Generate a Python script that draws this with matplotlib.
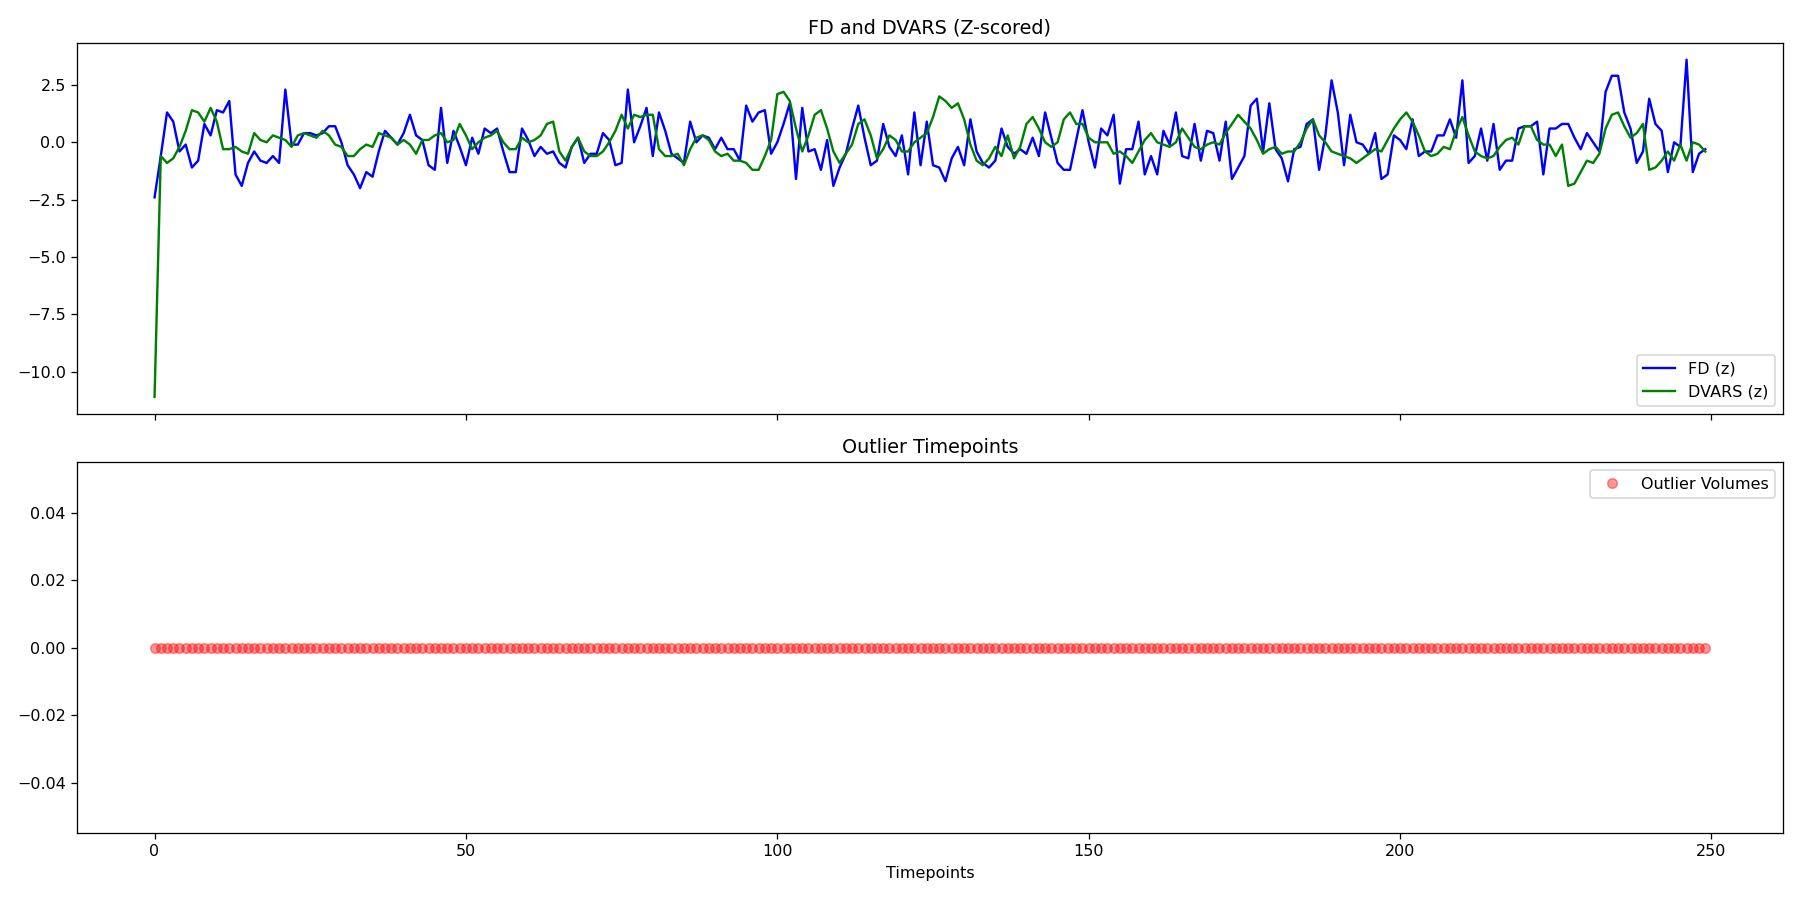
import numpy as np
import matplotlib
matplotlib.use("Agg")
import matplotlib.pyplot as plt
from matplotlib.ticker import MultipleLocator

fd_z = [
 -2.4, -0.6, 1.3, 0.9, -0.4, -0.1, -1.1, -0.8, 0.8, 0.3,
 1.4, 1.3, 1.8, -1.4, -1.9, -0.9, -0.4, -0.8, -0.9, -0.6,
 -0.9, 2.3, -0.1, -0.1, 0.4, 0.4, 0.3, 0.4, 0.7, 0.7,
 0.0, -1.0, -1.4, -2.0, -1.3, -1.5, -0.4, 0.5, 0.2, -0.1,
 0.4, 1.2, 0.3, 0.1, -1.0, -1.2, 1.5, -0.9, 0.5, -0.2,
 -1.0, 0.2, -0.5, 0.6, 0.4, 0.6, -0.4, -1.3, -1.3, 0.6,
 0.1, -0.6, -0.2, -0.5, -0.4, -0.9, -1.1, -0.2, 0.2, -0.9,
 -0.5, -0.5, 0.4, 0.1, -1.0, -0.9, 2.3, 0.0, 0.7, 1.5,
 -0.6, 1.3, 0.5, -0.5, -0.7, -0.9, 0.9, 0.0, 0.3, 0.2,
 -0.3, 0.2, -0.3, -0.3, -0.8, 1.6, 0.9, 1.3, 1.4, -0.5,
 0.0, 0.8, 1.7, -1.6, 1.5, -0.4, -0.3, -1.2, 0.1, -1.9,
 -1.1, -0.5, 0.6, 1.6, 0.2, -1.0, -0.8, 0.8, -0.2, -0.6,
 0.3, -1.4, 1.3, -1.0, 0.9, -1.0, -1.1, -1.7, -0.7, -0.2,
 -1.0, 1.0, -0.4, -0.9, -1.1, -0.8, 0.6, -0.2, -0.5, -0.3,
 -0.5, 0.2, -0.6, 1.3, 0.2, -0.9, -1.2, -1.2, 0.1, 1.4,
 0.0, -1.1, 0.6, 0.3, 1.2, -1.8, -0.3, -0.3, 0.9, -1.4,
 -0.6, -1.4, 0.5, -0.1, 1.3, -0.6, -0.7, 0.8, -0.8, 0.5,
 0.4, -0.8, 0.9, -1.6, -1.1, -0.6, 1.6, 1.9, -0.4, 1.7,
 -0.3, -0.7, -1.7, -0.3, -0.2, 0.8, 1.0, -1.2, 0.3, 2.7,
 1.3, -1.0, 1.2, 0.0, -0.1, -0.5, 0.4, -1.6, -1.4, 0.3,
 0.1, -0.3, 1.0, -0.6, -0.4, -0.4, 0.3, 0.3, 1.0, 0.2,
 2.7, -0.9, -0.6, 0.6, -0.8, 0.8, -1.2, -0.8, -0.8, 0.6,
 0.7, 0.7, 0.9, -1.4, 0.6, 0.6, 0.8, 0.8, 0.2, -0.3,
 0.4, 0.0, -0.4, 2.2, 2.9, 2.9, 1.3, 0.6, -0.9, -0.4,
 1.9, 0.8, 0.5, -1.3, 0.0, -0.2, 3.6, -1.3, -0.5, -0.3,
]

dvars_z = [
 -11.1, -0.6, -0.9, -0.7, -0.2, 0.5, 1.4, 1.3, 0.9, 1.5,
 0.9, -0.3, -0.3, -0.2, -0.4, -0.5, 0.4, 0.1, 0.0, 0.3,
 0.2, 0.1, -0.2, 0.3, 0.4, 0.3, 0.2, 0.5, 0.3, -0.1,
 -0.2, -0.6, -0.6, -0.3, -0.1, -0.2, 0.4, 0.3, 0.2, -0.1,
 0.1, -0.1, -0.5, 0.1, 0.1, 0.3, 0.4, 0.0, 0.1, 0.8,
 0.3, -0.3, 0.0, 0.2, 0.3, 0.5, 0.0, -0.3, -0.3, 0.2,
 0.0, 0.1, 0.3, 0.8, 0.9, -0.4, -0.8, -0.2, 0.2, -0.4,
 -0.6, -0.6, -0.4, 0.0, 0.5, 1.2, 0.6, 1.2, 1.1, 1.2,
 1.2, -0.3, -0.6, -0.6, -0.5, -1.0, -0.3, 0.2, 0.3, 0.1,
 -0.4, -0.6, -0.5, -0.8, -0.8, -0.9, -1.2, -1.2, -0.6, 0.1,
 2.1, 2.2, 1.8, 0.6, -0.4, 0.3, 1.2, 1.4, 0.6, -0.4,
 -0.9, -0.5, -0.1, 0.8, 1.0, 0.3, -0.7, -0.3, 0.3, 0.1,
 -0.4, -0.4, 0.0, 0.2, 0.4, 1.1, 2.0, 1.8, 1.5, 1.7,
 1.0, -0.1, -0.8, -1.0, -0.7, -0.2, -0.6, 0.3, -0.7, -0.2,
 0.8, 1.1, 0.6, 0.0, -0.2, 0.0, 1.0, 1.3, 0.8, 0.8,
 0.2, 0.0, 0.0, 0.0, -0.5, -0.4, -0.6, -0.9, -0.4, 0.1,
 0.4, 0.0, -0.1, -0.2, 0.0, 0.6, 0.2, -0.2, -0.3, -0.1,
 0.0, -0.1, 0.4, 0.8, 1.2, 0.9, 0.6, 0.1, -0.5, -0.3,
 -0.2, -0.5, -0.4, -0.4, 0.0, 0.6, 1.0, 0.3, 0.0, -0.4,
 -0.5, -0.6, -0.7, -0.9, -0.7, -0.5, -0.3, -0.4, 0.1, 0.6,
 1.0, 1.3, 0.9, 0.3, -0.4, -0.6, -0.5, -0.2, -0.3, 0.5,
 1.1, 0.3, -0.4, -0.6, -0.7, -0.6, -0.2, 0.1, 0.2, -0.1,
 0.7, 0.7, 0.1, -0.1, -0.1, -0.6, -0.1, -1.9, -1.8, -1.3,
 -0.8, -0.9, -0.5, 0.6, 1.2, 1.3, 0.7, 0.2, 0.4, 0.8,
 -1.2, -1.1, -0.8, -0.4, -0.8, -0.1, -0.8, 0.0, -0.1, -0.4,
]

outlier_flags = [0] * 250

t = np.arange(len(fd_z))

fig, (ax1, ax2) = plt.subplots(2, 1, figsize=(15.68, 7.84), dpi=100, sharex=True)
ax1.plot(t, fd_z, color="blue", label="FD (z)")
ax1.plot(t, dvars_z, color="green", label="DVARS (z)")
ax1.set_title("FD and DVARS (Z-scored)")
ax1.yaxis.set_major_locator(MultipleLocator(2.5))
ax1.legend(loc="lower right")

ax2.plot(t, outlier_flags, "o", color="red", alpha=0.4, label="Outlier Volumes")
ax2.set_title("Outlier Timepoints")
ax2.set_xlabel("Timepoints")
ax2.legend(loc="upper right")

fig.tight_layout()
fig.savefig("out.png", dpi=100*1800/1568)
